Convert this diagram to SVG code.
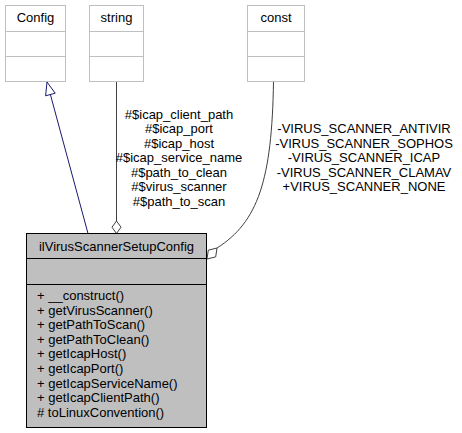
<svg xmlns="http://www.w3.org/2000/svg" width="462" height="433" viewBox="0 0 462 433">
<style>
  text { font-family: "Liberation Sans", Arial, Helvetica, sans-serif; font-size: 13px; fill: #000; }
  .mid { text-anchor: middle; }
  .ext rect { fill: #ffffff; stroke: #bfbfbf; stroke-width: 1; }
  .ext line { stroke: #bfbfbf; stroke-width: 1; }
  .cur rect { fill: #bfbfbf; stroke: #000000; stroke-width: 1; }
  .cur line { stroke: #000000; stroke-width: 1; }
  .agg { fill: none; stroke: #404040; stroke-width: 1; }
  .aggh { fill: #ffffff; stroke: #404040; stroke-width: 1; }
  .inh { fill: none; stroke: #191970; stroke-width: 1; }
  .inhh { fill: #ffffff; stroke: #191970; stroke-width: 1; }
</style>
<rect width="462" height="433" fill="#ffffff"/>
<g id="connectors">
  <g id="edge-inherit">
    <line class="inh" x1="88" y1="233.5" x2="50.4" y2="94.5"/>
    <polygon class="inhh" points="47,82 55.2,93.2 45.6,95.8"/>
  </g>
  <g id="edge-string">
    <line class="agg" x1="116.5" y1="81.5" x2="116.5" y2="221"/>
    <polygon class="aggh" points="116.5,233.5 112,227.2 116.5,221 121,227.2"/>
    <text class="mid" x="179" y="118.5">#$icap_client_path</text>
    <text class="mid" x="179" y="133">#$icap_port</text>
    <text class="mid" x="179" y="147.5">#$icap_host</text>
    <text class="mid" x="179" y="162">#$icap_service_name</text>
    <text class="mid" x="179" y="176.5">#$path_to_clean</text>
    <text class="mid" x="179" y="191">#$virus_scanner</text>
    <text class="mid" x="179" y="205.5">#$path_to_scan</text>
  </g>
  <g id="edge-const">
    <path class="agg" d="M273.5,81.5 C272,180 258,222 217,248"/>
    <polygon class="aggh" points="217,248 208.3,250.2 207,259 215.7,256.9"/>
    <text class="mid" x="364" y="133">-VIRUS_SCANNER_ANTIVIR</text>
    <text class="mid" x="364" y="147.5">-VIRUS_SCANNER_SOPHOS</text>
    <text class="mid" x="364" y="162">-VIRUS_SCANNER_ICAP</text>
    <text class="mid" x="364" y="176.5">-VIRUS_SCANNER_CLAMAV</text>
    <text class="mid" x="364" y="191">+VIRUS_SCANNER_NONE</text>
  </g>
</g>
<g id="node-Config" class="ext">
  <rect x="5.5" y="5.5" width="60" height="76"/>
  <line x1="5.5" y1="31.5" x2="65.5" y2="31.5"/>
  <line x1="5.5" y1="56.5" x2="65.5" y2="56.5"/>
  <text class="mid" x="35.5" y="22">Config</text>
</g>
<g id="node-string" class="ext">
  <rect x="89.5" y="5.5" width="54" height="76"/>
  <line x1="89.5" y1="31.5" x2="143.5" y2="31.5"/>
  <line x1="89.5" y1="56.5" x2="143.5" y2="56.5"/>
  <text class="mid" x="116.5" y="22">string</text>
</g>
<g id="node-const" class="ext">
  <rect x="247.5" y="5.5" width="57" height="76"/>
  <line x1="247.5" y1="31.5" x2="304.5" y2="31.5"/>
  <line x1="247.5" y1="56.5" x2="304.5" y2="56.5"/>
  <text class="mid" x="276" y="22">const</text>
</g>
<g id="node-ilVirusScannerSetupConfig" class="cur">
  <rect x="26.5" y="233.5" width="180" height="194"/>
  <line x1="26.5" y1="258.5" x2="206.5" y2="258.5"/>
  <line x1="26.5" y1="284.5" x2="206.5" y2="284.5"/>
  <text class="mid" x="116.5" y="250.5">ilVirusScannerSetupConfig</text>
  <text x="37" y="300">+ __construct()</text>
  <text x="37" y="314.6">+ getVirusScanner()</text>
  <text x="37" y="329.2">+ getPathToScan()</text>
  <text x="37" y="343.8">+ getPathToClean()</text>
  <text x="37" y="358.4">+ getIcapHost()</text>
  <text x="37" y="373">+ getIcapPort()</text>
  <text x="37" y="387.6">+ getIcapServiceName()</text>
  <text x="37" y="402.2">+ getIcapClientPath()</text>
  <text x="37" y="416.8"># toLinuxConvention()</text>
</g>
</svg>
